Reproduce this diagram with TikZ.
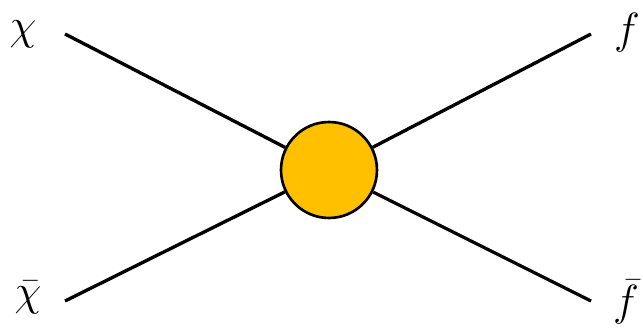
\documentclass[tikz,border=0pt]{standalone}
\usepackage{amsmath,amssymb}
\usepackage{xcolor}
\usepackage{tikz}
\definecolor{blobgold}{HTML}{FFC000}

\begin{document}
\begin{tikzpicture}[x=0.02cm, y=-0.02cm, line width=1.9pt,
	lbl/.style={inner sep=0pt, font=\fontsize{36}{42}\selectfont},
	blob/.style={circle, draw, fill=blobgold, minimum size=1.92cm, inner sep=0pt, line width=1.5pt}]
		\useasboundingbox (0,0) rectangle (643,334);
		% external legs
		\coordinate (inA) at (65,34);
		\coordinate (inB) at (65,301);
		\coordinate (outA) at (591,34);
		\coordinate (outB) at (591,301);
		\node[blob] (vtx) at (329,170) {};
		\draw (inA) -- (vtx);
		\draw (inB) -- (vtx);
		\draw (outA) -- (vtx);
		\draw (outB) -- (vtx);
		% particle labels
		\node[lbl] (chi) at (23,34) {$\chi$};
		\node[lbl] (chibar) at (28,298) {$\bar{\chi}$};
		\node[lbl] (ff) at (627,33) {$f$};
		\node[lbl] (ffbar) at (626,302) {$\bar{f}$};
	\end{tikzpicture}
\end{document}
